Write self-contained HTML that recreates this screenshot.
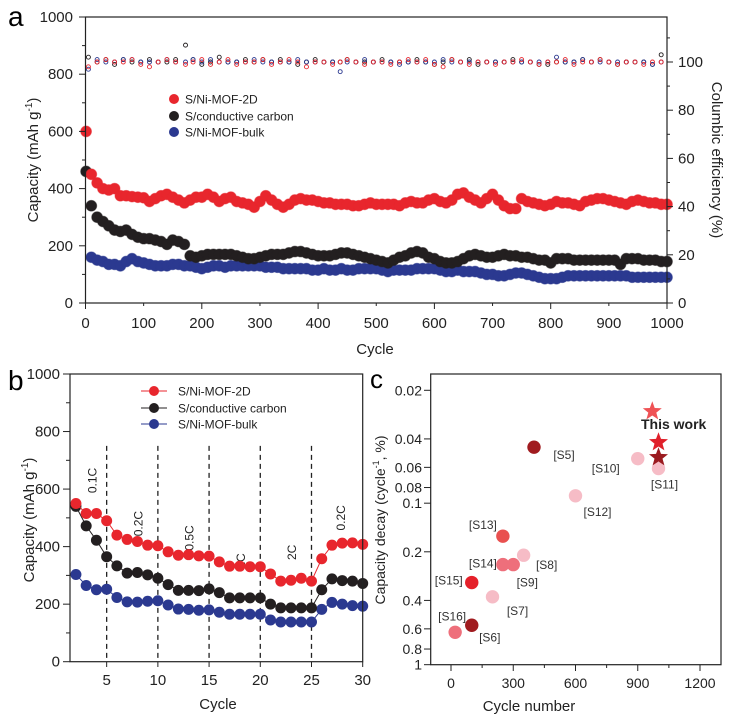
<!DOCTYPE html>
<html><head><meta charset="utf-8"><style>
body{margin:0;background:#fff;}
svg{display:block;font-family:"Liberation Sans",Arial,sans-serif;}
</style></head><body>
<svg id="fig" width="731" height="717" viewBox="0 0 731 717">
<text x="8" y="26" font-size="28">a</text>
<text x="8" y="390" font-size="28">b</text>
<text x="370" y="388" font-size="26">c</text>
</svg>
<script>
// ---------- Panel A data ----------
const aCycles=[1,10,20,30,40,50,60,70,80,90,100,110,120,130,140,150,160,170,180,190,200,210,220,230,240,250,260,270,280,290,300,310,320,330,340,350,360,370,380,390,400,410,420,430,440,450,460,470,480,490,500,510,520,530,540,550,560,570,580,590,600,610,620,630,640,650,660,670,680,690,700,710,720,730,740,750,760,770,780,790,800,810,820,830,840,850,860,870,880,890,900,910,920,930,940,950,960,970,980,990,1000];
const aRed=[600,450,420,400,395,400,375,375,372,370,368,355,365,375,380,370,360,350,360,370,370,380,370,355,365,370,355,350,345,335,355,375,360,345,335,345,360,365,360,360,355,350,350,345,345,345,340,340,345,350,345,345,345,345,340,350,355,350,350,360,365,355,350,360,380,385,370,360,350,365,380,360,340,330,330,365,355,350,345,340,345,355,350,350,345,340,355,360,365,365,360,355,350,345,355,360,355,350,350,345,345];
const aBlack=[460,340,300,285,270,255,250,255,240,230,225,225,220,215,205,220,215,205,165,160,165,170,170,170,170,170,165,160,155,155,160,165,170,170,170,175,180,180,175,170,165,165,165,170,175,175,170,165,160,155,150,145,140,150,160,165,175,180,175,160,155,145,140,140,145,155,165,170,165,160,160,165,170,165,165,160,160,155,150,150,140,155,155,155,150,150,150,150,150,150,150,150,135,155,155,155,150,150,150,145,145];
const aBlue=[null,160,150,145,135,135,130,145,155,145,140,135,130,130,130,135,135,130,130,125,120,125,130,130,125,130,130,130,130,130,130,125,125,125,120,120,120,120,120,115,115,120,115,115,120,115,115,120,120,120,120,115,110,115,115,115,115,120,120,120,120,115,110,110,115,110,110,110,105,100,100,95,95,100,105,105,100,95,90,85,85,85,90,95,95,95,95,95,95,95,95,95,95,95,90,90,90,90,90,90,90];
const ceCycles=[5,20,35,50,65,80,95,110,125,140,155,172,185,200,215,230,245,260,275,290,305,320,335,350,365,380,395,410,425,438,450,465,480,495,510,525,540,555,570,585,600,615,630,645,660,675,690,705,720,735,750,765,780,795,810,825,840,855,870,885,900,915,930,945,960,975,990];
const ceRed=[98,100,101,100,100,101,99,98,100,101,100,99,100,101,99,100,101,99,100,100,101,99,100,101,100,98,100,100,99,100,101,100,99,100,100,99,100,101,100,101,99,98,101,100,99,100,100,99,100,100,101,100,99,100,100,101,99,100,100,101,100,99,100,100,99,100,100];
const ceBlack=[102,100,101,99,101,100,100,101,100,100,101,107,101,99,100,102,100,100,101,100,101,100,101,100,99,100,101,100,100,100,101,100,100,100,101,100,100,100,101,100,99,100,101,100,101,99,100,100,100,101,100,100,99,99,100,100,100,101,100,101,100,99,100,100,100,99,103];
const ceBlue=[97,101,100,100,101,101,100,100,100,101,100,100,101,100,101,100,100,100,100,101,100,100,100,100,101,100,100,100,100,96,100,100,101,100,100,100,99,100,100,100,100,101,100,100,100,100,100,100,100,100,100,100,100,100,102,100,100,101,100,100,100,100,100,100,100,99,100];

// ---------- Panel B data ----------
const bCycles=[2,3,4,5,6,7,8,9,10,11,12,13,14,15,16,17,18,19,20,21,22,23,24,25,26,27,28,29,30];
const bRed=[550,515,515,490,440,425,418,405,403,382,370,372,368,367,347,332,332,330,330,305,280,283,290,280,358,405,412,413,408];
const bBlack=[540,472,422,365,333,308,310,302,290,268,248,248,247,253,240,222,222,222,222,200,187,187,187,187,250,288,282,280,272];
const bBlue=[303,265,250,252,223,208,207,210,212,197,183,182,179,180,172,165,165,165,165,145,138,138,138,138,182,206,200,195,193];
const bDashes=[5,10,15,20,25];
const bRateLabels=["0.1C","0.2C","0.5C","1C","2C","0.2C"];
const bRateCycles=[3.5,8,13,18,23,27.8];
const bRateValues=[630,480,430,350,380,500];

// ---------- Panel C data ----------
const cLabels=["[S5]","[S10]","[S11]","[S12]","[S13]","[S14]","[S9]","[S8]","[S15]","[S7]","[S16]","[S6]"];
const cCycles=[400,900,1000,600,250,250,300,350,100,200,20,100];
const cDecay=[0.045,0.053,0.061,0.09,0.16,0.24,0.24,0.21,0.31,0.38,0.63,0.57];
const cColors=["#a01b1f","#f6bcc6","#f6bcc6","#f6bcc6","#e9504f","#ee6f7b","#ee6f7b","#f6bcc6","#e5202a","#f6bcc6","#ee6f7b","#a01b1f"];
const starCycles=[970,1000,1000];
const starDecay=[0.027,0.042,0.052];
const starColors=["#ef5255","#e0202a","#9b1b20"];

const NS="http://www.w3.org/2000/svg";
const svg=document.getElementById('fig');
function mk(tag,attrs,parent){const e=document.createElementNS(NS,tag);for(const k in attrs)e.setAttribute(k,attrs[k]);(parent||svg).appendChild(e);return e;}
const RED="#e8262d",BLK="#231f20",BLU="#2b3990";

// ===== Panel A =====
const ax=v=>85.5+(v/1000)*(667-85.5);
const ay=v=>303-(v/1000)*(303-17);
const ayR=v=>303-(v/100)*(303-62);
const gA=mk('g',{});


function series(g,xs,ys,col,name,fx,fy,r){
  const sg=mk('g',{},g);
  
  
  xs.forEach((x,i)=>{ if(ys[i]==null)return;
    const c=mk('circle',{cx:fx(x),cy:fy(ys[i]),r:r,fill:col,stroke:col,'stroke-opacity':0.5,'stroke-width':1},sg);
    
    
  });
}
series(gA,aCycles,aBlue,BLU,'bulk-capacity-series',ax,ay,5.4);
series(gA,aCycles,aBlack,BLK,'carbon-capacity-series',ax,ay,5.4);
series(gA,aCycles,aRed,RED,'mof2d-capacity-series',ax,ay,5.4);
function ceSeries(ys,col,name){
  const sg=mk('g',{},gA);
  
  
  ceCycles.forEach((x,i)=>{
    const c=mk('circle',{cx:ax(x),cy:ayR(ys[i]),r:2,fill:'none',stroke:col,'stroke-width':0.9},sg);
    
    
  });
}
ceSeries(ceBlack,BLK,'carbon-ce-series');
ceSeries(ceBlue,BLU,'bulk-ce-series');
ceSeries(ceRed,RED,'mof2d-ce-series');
const fa=mk('rect',{x:85.5,y:17,width:581.5,height:286,fill:'none',stroke:'#222','stroke-width':1.2},gA);


for(let v=0;v<=1000;v+=100){
  mk('line',{x1:ax(v),x2:ax(v),y1:303,y2:v%200?306:309,stroke:'#222'},gA);
  const t=mk('text',{x:ax(v),y:328,'font-size':15,'text-anchor':'middle',fill:'#222'},gA);t.textContent=v;
  
  
  mk('line',{x1:85.5,x2:v%200?82:79,y1:ay(v),y2:ay(v),stroke:'#222'},gA);
  if(v%200===0){const l=mk('text',{x:73,y:ay(v)+5,'font-size':15,'text-anchor':'end',fill:'#222'},gA);l.textContent=v;
  
  }
}
for(let v=0;v<=110;v+=10){
  mk('line',{x1:667,x2:v%20?670:673,y1:ayR(v),y2:ayR(v),stroke:'#222'},gA);
  if(v%20===0&&v<=100){const l=mk('text',{x:678,y:ayR(v)+5,'font-size':15,fill:'#222'},gA);l.textContent=v;
  
  }
}
let t=mk('text',{x:375,y:354,'font-size':15,'text-anchor':'middle',fill:'#222'},gA);t.textContent='Cycle';


t=mk('text',{transform:'translate(38,160) rotate(-90)','font-size':15,'text-anchor':'middle',fill:'#222'},gA);
t.innerHTML='Capacity (mAh g<tspan dy="-6" font-size="10">-1</tspan><tspan dy="6">)</tspan>';


t=mk('text',{transform:'translate(712,160) rotate(90)','font-size':15,'text-anchor':'middle',fill:'#222'},gA);t.textContent='Columbic efficiency (%)';


[["S/Ni-MOF-2D",RED,99],["S/conductive  carbon",BLK,116],["S/Ni-MOF-bulk",BLU,132]].forEach(([n,c,y])=>{
  const g=mk('g',{},gA);
  
  
  mk('circle',{cx:174,cy:y,r:5,fill:c},g);
  const tt=mk('text',{x:185,y:y+4.5,'font-size':12,fill:'#222'},g);tt.textContent=n;
});

// ===== Panel B =====
const bx=v=>70+(v-1.42)/(30-1.42)*(362.7-70);
const by=v=>661.7-v/1000*(661.7-374);
const gB=mk('g',{});


bDashes.forEach(d=>{
  const l=mk('line',{x1:bx(d),x2:bx(d),y1:by(750),y2:661.7,stroke:'#222','stroke-width':1.3,'stroke-dasharray':'5,4'},gB);
  
  
});
bRateLabels.forEach((s,i)=>{
  const tt=mk('text',{transform:`translate(${bx(bRateCycles[i])+5},${by(bRateValues[i])}) rotate(-90)`,'font-size':12,'text-anchor':'middle',fill:'#222'},gB);tt.textContent=s;
  
  
});
function lineSeries(ys,col,name){
  const sg=mk('g',{},gB);
  
  
  mk('polyline',{points:bCycles.map((c,i)=>bx(c)+','+by(ys[i])).join(' '),fill:'none',stroke:col,'stroke-width':1},sg);
  bCycles.forEach((c,i)=>{const p=mk('circle',{cx:bx(c),cy:by(ys[i]),r:5.5,fill:col},sg);
    
    });
}
lineSeries(bBlue,BLU,'bulk-rate-series');
lineSeries(bBlack,BLK,'carbon-rate-series');
lineSeries(bRed,RED,'mof2d-rate-series');
const fb=mk('rect',{x:70,y:374,width:292.7,height:287.7,fill:'none',stroke:'#222','stroke-width':1.2},gB);


for(let v=0;v<=1000;v+=100){
  mk('line',{x1:70,x2:v%200?66:63,y1:by(v),y2:by(v),stroke:'#222'},gB);
  if(v%200===0){const l=mk('text',{x:60,y:by(v)+5,'font-size':15,'text-anchor':'end',fill:'#222'},gB);l.textContent=v;
  
  }
}
for(let v=5;v<=30;v+=5){
  mk('line',{x1:bx(v),x2:bx(v),y1:661.7,y2:667,stroke:'#222'},gB);
  const l=mk('text',{x:bx(v),y:685,'font-size':15,'text-anchor':'middle',fill:'#222'},gB);l.textContent=v;
  
  
}
t=mk('text',{x:218,y:709,'font-size':15,'text-anchor':'middle',fill:'#222'},gB);t.textContent='Cycle';


t=mk('text',{transform:'translate(34,520) rotate(-90)','font-size':15,'text-anchor':'middle',fill:'#222'},gB);
t.innerHTML='Capacity (mAh g<tspan dy="-6" font-size="10">-1</tspan><tspan dy="6">)</tspan>';


[["S/Ni-MOF-2D",RED,391],["S/conductive  carbon",BLK,408],["S/Ni-MOF-bulk",BLU,424]].forEach(([n,c,y])=>{
  const g=mk('g',{},gB);
  
  
  mk('line',{x1:141,x2:167,y1:y,y2:y,stroke:c},g);
  mk('circle',{cx:154,cy:y,r:5,fill:c},g);
  const tt=mk('text',{x:178,y:y+4.5,'font-size':12,fill:'#222'},g);tt.textContent=n;
});

// ===== Panel C =====
const cx=v=>451+v/1200*(700-451);
const cy=v=>390.3+Math.log10(v/0.02)*161.5;
const gC=mk('g',{});


const lblOff={"[S5]":[30,12],"[S10]":[-32,14],"[S11]":[6,20],"[S12]":[22,20],"[S13]":[-20,-7],"[S14]":[-20,3],"[S9]":[14,22],"[S8]":[23,14],"[S15]":[-23,2],"[S7]":[25,18],"[S16]":[-3,-12],"[S6]":[18,16]};
cCycles.forEach((c,i)=>{
  const p=mk('circle',{cx:cx(c),cy:cy(cDecay[i]),r:6.7,fill:cColors[i]},gC);
  
  
  const o=lblOff[cLabels[i]];
  const tt=mk('text',{x:cx(c)+o[0],y:cy(cDecay[i])+o[1],'font-size':12,'text-anchor':'middle',fill:'#333'},gC);tt.textContent=cLabels[i];
  
  
});
function star(x,y,r){let s=[];for(let k=0;k<10;k++){const a=-Math.PI/2+k*Math.PI/5,rr=k%2?r*0.42:r;s.push((x+rr*Math.cos(a)).toFixed(1)+','+(y+rr*Math.sin(a)).toFixed(1));}return s.join(' ');}
starCycles.forEach((c,i)=>{
  const p=mk('polygon',{points:star(cx(c),cy(starDecay[i]),10),fill:starColors[i]},gC);
  
  
});
t=mk('text',{x:641,y:429,'font-size':14,'font-weight':'bold',fill:'#222'},gC);t.textContent='This work';


const fc=mk('rect',{x:430.7,y:374,width:290.3,height:290.7,fill:'none',stroke:'#222','stroke-width':1.2},gC);


const cYT=[0.02,0.04,0.06,0.08,0.1,0.2,0.4,0.6,0.8,1];
cYT.forEach(v=>{
  mk('line',{x1:430.7,x2:424,y1:cy(v),y2:cy(v),stroke:'#222'},gC);
  const l=mk('text',{x:422,y:cy(v)+5,'font-size':14,'text-anchor':'end',fill:'#222'},gC);l.textContent=v;
  
  
});
for(let v=-150;v<=1350;v+=150){
  if(cx(v)<431||cx(v)>721)continue;
  mk('line',{x1:cx(v),x2:cx(v),y1:664.7,y2:v%300?668:671,stroke:'#222'},gC);
  if(v%300===0){const l=mk('text',{x:cx(v),y:688,'font-size':14,'text-anchor':'middle',fill:'#222'},gC);l.textContent=v;
  
  }
}
t=mk('text',{x:529,y:711,'font-size':15,'text-anchor':'middle',fill:'#222'},gC);t.textContent='Cycle number';


t=mk('text',{transform:'translate(385,520) rotate(-90)','font-size':14,'text-anchor':'middle',fill:'#222'},gC);
t.innerHTML='Capacity decay (cycle<tspan dy="-6" font-size="9">-1</tspan><tspan dy="6">, %)</tspan>';


</script>
</body></html>
